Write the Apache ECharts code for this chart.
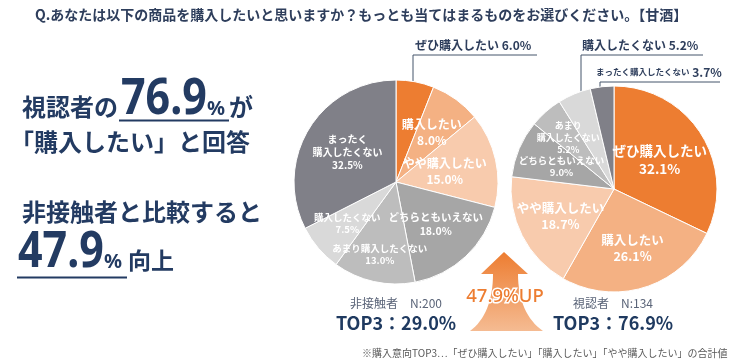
<!DOCTYPE html>
<html><head><meta charset="utf-8">
<script src="https://cdn.jsdelivr.net/npm/echarts@6/dist/echarts.min.js"></script>
<style>html,body{margin:0;padding:0;background:#fff}#c{width:733px;height:362px}</style>
</head><body><div id="c"></div>
<script>
// ---- data ----
const categories = ['ぜひ購入したい','購入したい','やや購入したい','どちらともいえない','あまり購入したくない','購入したくない','まったく購入したくない'];
const nonContactValues = [6.0, 8.0, 15.0, 18.0, 13.0, 7.5, 32.5];
const viewerValues = [32.1, 26.1, 18.7, 9.0, 5.2, 5.2, 3.7];
const groupNames = ['非接触者', '視認者'];
const sampleSizes = [200, 134];
const titleText = 'Q.あなたは以下の商品を購入したいと思いますか？もっとも当てはまるものをお選びください。【甘酒】';
const footnoteText = '※購入意向TOP3…「ぜひ購入したい」「購入したい」「やや購入したい」の合計値';
// display names inside slices (line-broken)
const leftInnerNames = ['ぜひ購入したい','購入したい','やや購入したい','どちらともいえない','あまり購入したくない','購入したくない','まったく\n購入したくない'];
const rightInnerNames = ['ぜひ購入したい','購入したい','やや購入したい','どちらともいえない','あまり\n購入したくない','購入したくない','まったく購入したくない'];

// ---- style ----
const CJK = '"Noto Sans CJK JP","Noto Sans",sans-serif';
const NUM = '"Noto Sans","Noto Sans CJK JP",sans-serif';
const NAVY = '#233B62';
const sliceColors = ['#ED7D31','#F4B183','#F8CBAD','#A6A6A6','#BDBDBD','#D9D9D9','#808088'];
const LC = [396, 182], LR = 102;
const RC = [614, 189], RR = 103;
const leftLabelRadii = [0, 61, 50, 58, 74, 64, 57];
const rightLabelRadii = [54, 62, 60, 57, 69, 0, 0];
const leftFonts = [12, 12, 12, 10.5, 9.5, 9.5, 10];
const rightFonts = [13.5, 12.5, 12.5, 9.5, 9, 12, 12];
const leftExternal = {0: {x: 415, y: 45, align: 'left', verticalAlign: 'middle', labelLinePoints: [[413, 90], [413, 55], [537, 55]]}};
const rightExternal = {
  5: {x: 582, y: 45, align: 'left', verticalAlign: 'middle', labelLinePoints: [[581, 100], [581, 55], [703, 55]]},
  6: {x: 596, y: 72, align: 'left', verticalAlign: 'middle', labelLinePoints: [[600, 92], [600, 82], [720, 82]]}
};

const sum = a => a.reduce((s, v) => s + v, 0);
const top3 = v => sum(v.slice(0, 3));

function makeLayout(values, c, radii, ext) {
  const total = sum(values);
  const mids = []; let s = 0;
  values.forEach(v => { mids.push(s + v / 2); s += v; });
  return function (p) {
    const i = p.dataIndex;
    if (ext[i]) return ext[i];
    const a = mids[i] / total * 2 * Math.PI;
    return {x: c[0] + radii[i] * Math.sin(a), y: c[1] - radii[i] * Math.cos(a), align: 'center', verticalAlign: 'middle'};
  };
}

function buildData(values, fonts, ext) {
  return values.map((v, i) => ({
    value: v, name: categories[i],
    itemStyle: {color: sliceColors[i]},
    label: ext[i]
      ? {position: 'outside', color: '#2E3E5C', fontSize: fonts[i], fontWeight: 'bold'}
      : {fontSize: fonts[i], lineHeight: Math.round(fonts[i] * 1.3)},
    labelLine: {show: !!ext[i], lineStyle: {color: '#44546A', width: 1}}
  }));
}

function makeFormatter(names, ext) {
  return function (p) {
    const i = p.dataIndex;
    const pct = p.value.toFixed(1) + '%';
    if (ext[i]) {
      if (names[i].length > 8) return '{s|' + names[i] + '} {b|' + pct + '}';
      return names[i] + ' ' + pct;
    }
    return names[i] + '\n' + pct;
  };
}

function pieSeries(values, c, r, names, fonts, radii, ext) {
  return {
    type: 'pie', center: c, radius: [0, r], startAngle: 90, clockwise: true,
    avoidLabelOverlap: false, silent: true,
    itemStyle: {borderColor: '#fff', borderWidth: 1},
    label: {
      show: true, position: 'inside', color: '#fff', fontWeight: 'bold', fontFamily: CJK,
      formatter: makeFormatter(names, ext),
      rich: {
        s: {fontSize: 8.5, fontWeight: 'bold', color: '#2E3E5C', fontFamily: CJK},
        b: {fontSize: 12, fontWeight: 'bold', color: '#2E3E5C', fontFamily: CJK}
      }
    },
    labelLine: {show: false},
    labelLayout: makeLayout(values, c, radii, ext),
    data: buildData(values, fonts, ext)
  };
}

const leftTop = top3(nonContactValues), rightTop = top3(viewerValues);
const diff = rightTop - leftTop;

function txt(x, y, text, size, opts) {
  return Object.assign({type: 'text', x: x, y: y, style: Object.assign({
    text: text, fontSize: size, fontFamily: CJK, fontWeight: 'bold', fill: NAVY,
    textVerticalAlign: 'middle'
  }, (opts && opts.style) || {})}, (opts && opts.el) || {});
}

// arrow outline (decoration) built from bezier flares
function bez(p0, p1, p2, p3, n) {
  const out = [];
  for (let k = 0; k <= n; k++) {
    const t = k / n, u = 1 - t;
    out.push([u*u*u*p0[0] + 3*u*u*t*p1[0] + 3*u*t*t*p2[0] + t*t*t*p3[0],
              u*u*u*p0[1] + 3*u*u*t*p1[1] + 3*u*t*t*p2[1] + t*t*t*p3[1]]);
  }
  return out;
}
const arrowPts = [[504, 252], [528, 274], [518, 274]]
  .concat(bez([518, 274], [518, 300], [527, 320], [543, 331], 16))
  .concat(bez([470, 331], [485, 320], [493, 300], [493, 274], 16))
  .concat([[481, 274]]);

const graphics = [
  txt(35, 15, titleText, 14, {style: {fill: '#2E3E5C'}}),
  // headline
  txt(22, 107, '視認者の', 24),
  txt(121, 100, rightTop.toFixed(1), 50, {style: {fontFamily: NUM}, el: {scaleX: 0.86}}),
  txt(207, 109, '%', 20, {style: {fontFamily: NUM}}),
  txt(229, 107, 'が', 24),
  {type: 'line', shape: {x1: 119, y1: 120.5, x2: 229, y2: 120.5}, style: {stroke: NAVY, lineWidth: 2}},
  txt(10, 142, '「購入したい」と回答', 24),
  txt(22, 212, '非接触者と比較すると', 24),
  txt(18, 253, diff.toFixed(1), 50, {style: {fontFamily: NUM}, el: {scaleX: 0.86}}),
  txt(104, 262, '%', 20, {style: {fontFamily: NUM}}),
  txt(128, 260, '向上', 23),
  {type: 'line', shape: {x1: 17, y1: 277.5, x2: 127, y2: 277.5}, style: {stroke: NAVY, lineWidth: 2}},
  // arrow
  {type: 'polygon', z: 5, shape: {points: arrowPts},
    style: {fill: {type: 'linear', x: 0, y: 0, x2: 0, y2: 1, colorStops: [{offset: 0, color: '#ED7D31'}, {offset: 1, color: '#F5BB92'}]}}},
  {type: 'text', z: 10, x: 505, y: 297, style: {text: diff.toFixed(1) + '%UP', fontSize: 18.5, fontFamily: NUM, fontWeight: 500,
    fill: '#ED7D31', stroke: '#fff', lineWidth: 3, textAlign: 'center', textVerticalAlign: 'middle'}},
  // group labels
  txt(396, 303, groupNames[0] + '　N:' + sampleSizes[0], 12, {style: {fontWeight: 'normal', fill: '#5A6478', textAlign: 'center'}}),
  txt(396, 323, 'TOP3：' + leftTop.toFixed(1) + '%', 18, {style: {textAlign: 'center', fill: '#1F3A60'}}),
  txt(613, 303, groupNames[1] + '　N:' + sampleSizes[1], 12, {style: {fontWeight: 'normal', fill: '#5A6478', textAlign: 'center'}}),
  txt(613, 323, 'TOP3：' + rightTop.toFixed(1) + '%', 18, {style: {textAlign: 'center', fill: '#1F3A60'}}),
  txt(362, 353, footnoteText, 10, {style: {fontWeight: 'normal', fill: '#595959'}})
];

const chart = echarts.init(document.getElementById('c'), null, {renderer: 'canvas'});
chart.setOption({
  animation: false,
  backgroundColor: '#fff',
  series: [
    pieSeries(nonContactValues, LC, LR, leftInnerNames, leftFonts, leftLabelRadii, leftExternal),
    pieSeries(viewerValues, RC, RR, rightInnerNames, rightFonts, rightLabelRadii, rightExternal)
  ],
  graphic: graphics
});
</script>
</body></html>
